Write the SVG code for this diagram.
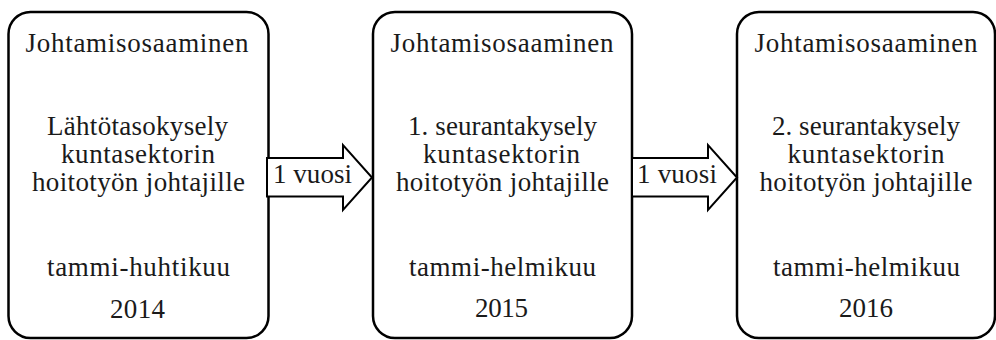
<svg xmlns="http://www.w3.org/2000/svg" width="996" height="340" viewBox="0 0 996 340">
<style>
.box{fill:#fff;stroke:#000;stroke-width:2.5}
.arr{fill:#fff;stroke:#000;stroke-width:2;stroke-linejoin:miter}
.t{font-family:'Liberation Serif','DejaVu Serif',serif;font-size:27px;fill:#1a1a1a;text-anchor:middle}
.al{text-anchor:start}
</style>
<rect width="996" height="340" fill="#fff"/>
<g id="node1">
<rect class="box" x="8.5" y="12" width="260" height="326" rx="22"/>
<text class="t" x="137" y="52" textLength="223" lengthAdjust="spacing">Johtamisosaaminen</text>
<text class="t" x="137.5" y="135" textLength="181" lengthAdjust="spacing">Lähtötasokysely</text>
<text class="t" x="138" y="163" textLength="154" lengthAdjust="spacing">kuntasektorin</text>
<text class="t" x="138.5" y="191" textLength="213" lengthAdjust="spacing">hoitotyön johtajille</text>
<text class="t" x="138.5" y="276" textLength="183" lengthAdjust="spacing">tammi-huhtikuu</text>
<text class="t" x="137.5" y="318" textLength="55" lengthAdjust="spacing">2014</text>
</g>
<g id="node2">
<rect class="box" x="373" y="12" width="259" height="326" rx="22"/>
<text class="t" x="502" y="52" textLength="223" lengthAdjust="spacing">Johtamisosaaminen</text>
<text class="t" x="502.5" y="135" textLength="189" lengthAdjust="spacing">1. seurantakysely</text>
<text class="t" x="501.5" y="163" textLength="157" lengthAdjust="spacing">kuntasektorin</text>
<text class="t" x="502.5" y="191" textLength="213" lengthAdjust="spacing">hoitotyön johtajille</text>
<text class="t" x="502.5" y="276" textLength="187" lengthAdjust="spacing">tammi-helmikuu</text>
<text class="t" x="501.5" y="317" textLength="53" lengthAdjust="spacing">2015</text>
</g>
<g id="node3">
<rect class="box" x="737" y="12" width="258" height="326" rx="22"/>
<text class="t" x="866" y="52" textLength="223" lengthAdjust="spacing">Johtamisosaaminen</text>
<text class="t" x="866" y="135" textLength="188" lengthAdjust="spacing">2. seurantakysely</text>
<text class="t" x="866" y="163" textLength="157" lengthAdjust="spacing">kuntasektorin</text>
<text class="t" x="866" y="191" textLength="213" lengthAdjust="spacing">hoitotyön johtajille</text>
<text class="t" x="866.5" y="276" textLength="187" lengthAdjust="spacing">tammi-helmikuu</text>
<text class="t" x="866" y="317" textLength="54" lengthAdjust="spacing">2016</text>
</g>
<g id="connectors">
<g id="arrow1">
<polygon class="arr" points="267,158 343,158 343,145 372,177.5 343,210 343,196.5 267,196.5"/>
<text class="t al" x="273" y="183" textLength="79" lengthAdjust="spacing">1 vuosi</text>
</g>
<g id="arrow2">
<polygon class="arr" points="632,158 708,158 708,145 737,177.5 708,210 708,196.5 632,196.5"/>
<text class="t al" x="637" y="183" textLength="80" lengthAdjust="spacing">1 vuosi</text>
</g>
</g>
</svg>
